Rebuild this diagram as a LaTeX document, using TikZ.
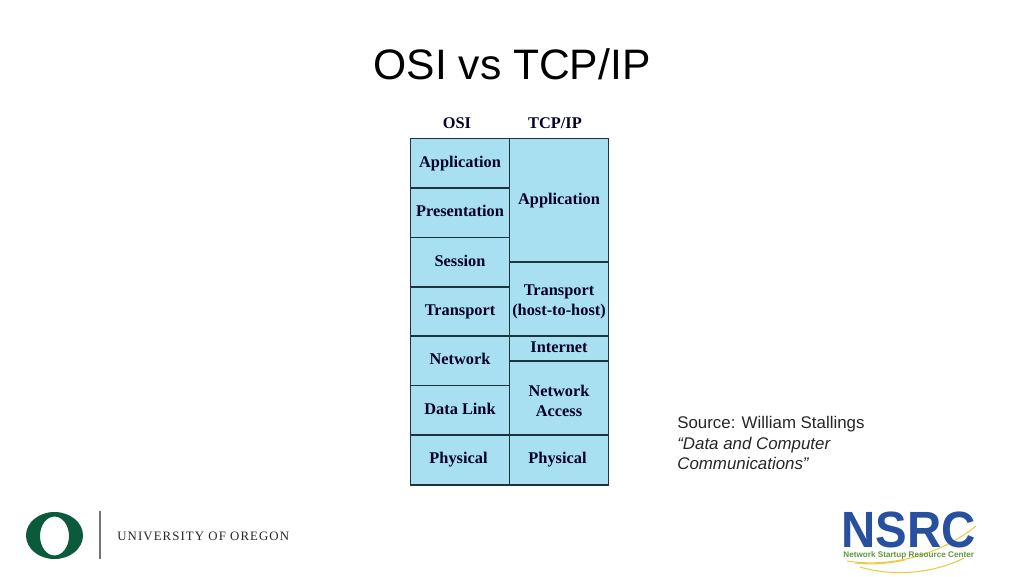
\documentclass[tikz,border=0pt]{standalone}
\usepackage{fontspec}
\setmainfont{Liberation Sans}
\newfontfamily\tablefont{Liberation Serif}
\usepackage{tikz}
\definecolor{layerblue}{HTML}{A9E0F1}
\definecolor{layerline}{HTML}{1D3440}
\definecolor{oregongreen}{HTML}{0B5A3C}
\definecolor{nsrcblue}{HTML}{27509F}
\definecolor{nsrcgreen}{HTML}{5C9A3A}
\definecolor{nsrcyellow}{HTML}{EBCB45}
\newcommand{\firstline}{\rule{0pt}{9.6pt}}
\tikzset{
  layer/.style={draw=layerline,line width=1.1pt,fill=layerblue,text=black!85!blue,
    font=\tablefont\bfseries\fontsize{9.3}{11.4}\selectfont,align=center,
    minimum width=99*.02cm,inner sep=0pt},
  oneline/.style={layer,text height=6.3pt,text depth=2pt},
  head/.style={font=\tablefont\bfseries\fontsize{9.3}{11.4}\selectfont,text=black!85!blue},
  swoosh/.style={draw=nsrcyellow,line width=.6pt}
}

\begin{document}
\begin{tikzpicture}[x=.02cm,y=-.02cm]
  \useasboundingbox[fill=white] (0,0) rectangle (1024,576);

  \node at (512,64) (title){\fontsize{24.25}{30}\selectfont OSI vs TCP/IP};

  \node[head] at (457,123.5) (osihead){OSI};
  \node[head] at (555,123.5) (tcphead){TCP/IP};

  % OSI column
  \node[oneline,minimum height=49.5*.02cm] at (460,163.25) (osiapp){Application};
  \node[oneline,minimum height=49.5*.02cm] at (460,212.75) (osipres){Presentation};
  \node[oneline,minimum height=49.5*.02cm] at (460,262.25) (osises){Session};
  \node[oneline,minimum height=49*.02cm] at (460,311.5) (ositrans){Transport};
  \node[oneline,minimum height=49.5*.02cm] at (460,360.75) (osinet){Network};
  \node[oneline,minimum height=49.5*.02cm] at (460,410.25) (osilink){Data Link};
  \node[oneline,minimum height=50*.02cm] at (460,460) (osiphys){Physical\kern1.7pt};

  % TCP/IP column
  \node[oneline,minimum height=123.5*.02cm] at (559,200.25) (tcpapp){Application};
  \node[layer,minimum height=74*.02cm] at (559,299) (tcptrans){\firstline Transport\\(host-to-host)};
  \node[oneline,minimum height=25*.02cm] at (559,348.5) (tcpnet){Internet};
  \node[layer,minimum height=74*.02cm] at (559,398) (tcpacc){\firstline Network\\Access};
  \node[oneline,minimum height=50*.02cm] at (559,460) (tcpphys){Physical\kern1.7pt};

  \node[anchor=north west,align=left,inner sep=0pt,font=\fontsize{9.6}{11.7}\selectfont,text=black!85] at (677,416) (source)
    {Source: William Stallings\\\textit{``Data and Computer}\\\textit{Communications''}};

  % Oregon logo
  \fill[oregongreen,even odd rule] (54.5,535.5) ellipse [x radius=28.5,y radius=23.5]
    (54.5,536) ellipse [x radius=14.5,y radius=19.5];
  \draw[black!55,line width=.6pt] (100,511) -- (100,559);
  \node[anchor=west,inner sep=0pt,font=\tablefont\fontsize{7.3}{9}\selectfont,text=black!85] at (117,536) (oregon)
    {\addfontfeature{LetterSpace=8.5}UNIVERSITY OF OREGON};

  % NSRC logo
  \draw[swoosh] (847,561) .. controls (890,568) and (940,555) .. (976,526);
  \draw[swoosh] (860,567) .. controls (890,576) and (930,575) .. (964,558);
  \draw[swoosh] (855,563) .. controls (875,565) and (892,563) .. (905,560);
  \node[anchor=base west,inner sep=0pt,text=nsrcblue,xscale=.93,font=\bfseries\fontsize{29}{33}\selectfont] at (841,547.5) (nsrc){NSRC};
  \node[anchor=base west,inner sep=0pt,text=nsrcgreen,font=\bfseries\fontsize{4.65}{6}\selectfont] at (843,557.5) (nsrcsub){Network Startup Resource Center};
\end{tikzpicture}
\end{document}
